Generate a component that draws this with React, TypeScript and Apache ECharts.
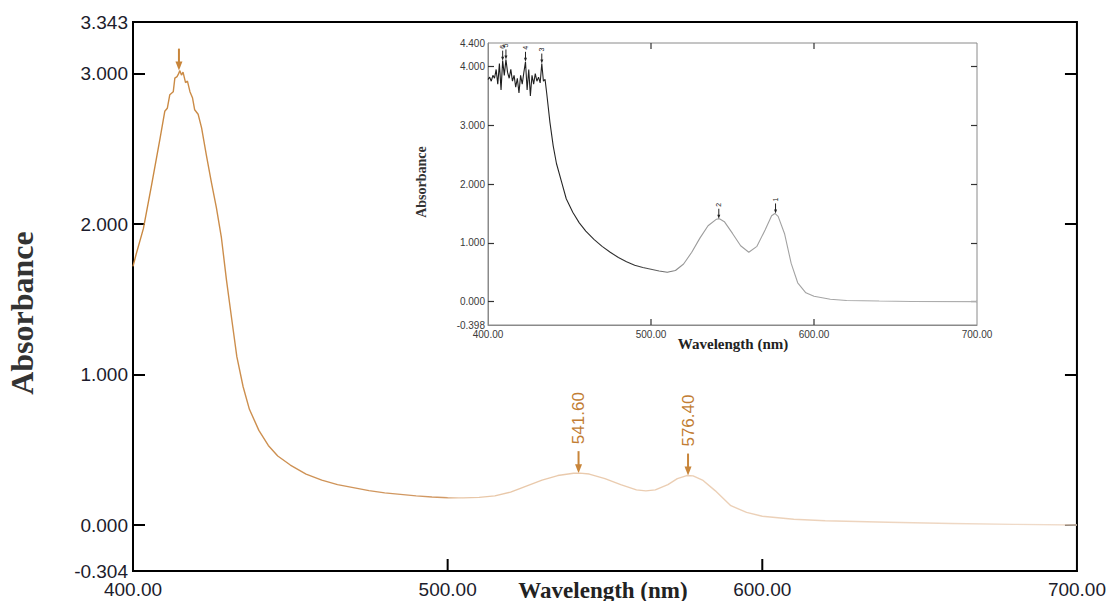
import React, { useEffect, useRef } from "react";
import * as echarts from "echarts";

// ---- Main spectrum (nm, absorbance) ----
const mainWavelength = [400, 401, 403.3, 405.9, 408.6, 410.1, 410.9, 411.7, 412.8, 413.3, 414.0, 414.5, 414.9, 415.4, 415.9, 416.7, 417.3, 418.1, 418.9, 419.6, 420.7, 421.8, 423.3, 424.9, 426.5, 428.1, 429.7, 431.5, 433, 435, 437, 440, 443, 446, 450, 455, 460, 465, 470, 475, 480, 485, 490, 495, 500, 505, 510, 515, 520, 525, 530, 535, 540, 542, 545, 550, 555, 560, 563, 566, 570, 573, 576, 578, 581, 585, 590, 595, 600, 610, 620, 640, 660, 680, 700];
const mainAbsorbance = [1.72, 1.80, 1.97, 2.26, 2.57, 2.75, 2.77, 2.86, 2.88, 2.97, 2.98, 3.00, 3.02, 2.99, 3.01, 2.94, 2.95, 2.88, 2.84, 2.76, 2.73, 2.64, 2.46, 2.28, 2.11, 1.91, 1.63, 1.35, 1.12, 0.92, 0.77, 0.63, 0.53, 0.46, 0.40, 0.34, 0.30, 0.27, 0.25, 0.23, 0.215, 0.205, 0.195, 0.188, 0.183, 0.182, 0.185, 0.195, 0.22, 0.26, 0.30, 0.33, 0.345, 0.346, 0.34, 0.31, 0.27, 0.235, 0.228, 0.235, 0.27, 0.31, 0.33, 0.328, 0.30, 0.23, 0.13, 0.085, 0.06, 0.04, 0.03, 0.02, 0.012, 0.006, 0.002];

const mainPeakWavelength = [414.6, 541.6, 576.4];
const mainPeakAbsorbance = [3.02, 0.346, 0.33];
const mainPeakLabels = ["", "541.60", "576.40"];

const xMin = 400;
const xMax = 700;
const xStep = 100;
const xInnerTicks = [500, 600];
const mainYTicks = [0, 1, 2, 3];
const mainYLabels = [-0.304, 0, 1, 2, 3, 3.343];
const mainYMin = -0.304;
const mainYMax = 3.343;

// ---- Inset spectrum ----
const insetWavelength = [400, 401, 402, 403, 404, 405, 406, 407, 408, 409, 410, 411, 412, 413, 414, 415, 416, 417, 418, 419, 420, 421, 422, 423, 424, 425, 426, 427, 428, 429, 430, 431, 432, 433, 434, 435, 436, 438, 440, 442, 445, 448, 452, 456, 460, 465, 470, 475, 480, 485, 490, 495, 500, 505, 510, 515, 520, 525, 530, 535, 540, 542, 545, 550, 555, 560, 565, 570, 574, 576, 578, 582, 586, 590, 595, 600, 610, 620, 640, 660, 700];
const insetAbsorbance = [3.78, 3.82, 3.75, 3.85, 3.80, 3.95, 3.70, 4.05, 3.60, 4.10, 3.85, 4.12, 3.90, 3.80, 3.95, 3.75, 3.85, 3.65, 3.80, 3.55, 3.85, 3.70, 3.90, 4.08, 3.60, 3.95, 3.50, 3.85, 3.70, 3.88, 3.75, 3.82, 3.72, 4.05, 3.75, 3.78, 3.55, 3.05, 2.65, 2.35, 2.05, 1.75, 1.52, 1.34, 1.20, 1.06, 0.94, 0.84, 0.75, 0.68, 0.62, 0.58, 0.55, 0.52, 0.50, 0.53, 0.64, 0.84, 1.08, 1.29, 1.40, 1.41, 1.36, 1.16, 0.95, 0.84, 0.94, 1.22, 1.46, 1.50, 1.45, 1.15, 0.65, 0.32, 0.15, 0.09, 0.04, 0.02, 0.01, 0.003, 0.0];

const insetPeakWavelength = [576.4, 541.6, 433, 423, 411, 409];
const insetPeakAbsorbance = [1.50, 1.41, 4.05, 4.08, 4.12, 4.10];
const insetPeakLabels = ["1", "2", "3", "4", "5", "6"];

const insetYTicks = [0, 1, 2, 3, 4];
const insetYLabels = [-0.398, 0, 1, 2, 3, 4, 4.4];
const insetYMin = -0.398;
const insetYMax = 4.4;

type ArrowOpts = {
  len: number; head: number; hw: number; lw: number; tgap: number;
  color: string; textColor: string; font: string;
};

function arrowRenderer(labels: string[], o: ArrowOpts) {
  return (params: any, api: any) => {
    const p = api.coord([api.value(0), api.value(1)]);
    const x = p[0];
    const tip = p[1];
    const top = tip - o.len;
    const children: any[] = [
      { type: "line", shape: { x1: x, y1: top, x2: x, y2: tip - o.head + 1 }, style: { stroke: o.color, lineWidth: o.lw } },
      { type: "polygon", shape: { points: [[x - o.hw, tip - o.head], [x + o.hw, tip - o.head], [x, tip]] }, style: { fill: o.color } },
    ];
    const t = labels[params.dataIndex];
    if (t) {
      children.push({
        type: "text", x: x, y: top - o.tgap, rotation: Math.PI / 2,
        style: { text: t, fill: o.textColor, font: o.font, align: "left", verticalAlign: "middle" },
      });
    }
    return { type: "group", children };
  };
}

export default function App() {
  const ref = useRef<HTMLDivElement>(null);
  useEffect(() => {
    if (!ref.current) return;
    const chart = echarts.init(ref.current, null, { renderer: "svg" });
    const labelFont = "Liberation Sans";
    const serif = "Liberation Serif";
    const mainData = mainWavelength.map((w, i) => [w, mainAbsorbance[i]]);
    const insetData = insetWavelength.map((w, i) => [w, insetAbsorbance[i]]);
    const insetTick = { show: true, inside: true, length: 6, lineStyle: { color: "#333", width: 1.2 } };

    const titles: any[] = [
      { type: "text", x: 22, y: 313, rotation: Math.PI / 2, z: 10,
        style: { text: "Absorbance", font: `bold 32px "${serif}"`, fill: "#333", align: "center", verticalAlign: "middle" } },
      { type: "text", x: 603, y: 590, z: 10,
        style: { text: "Wavelength (nm)", font: `bold 23px "${serif}"`, fill: "#222", align: "center", verticalAlign: "middle" } },
      { type: "text", x: 421, y: 182, rotation: Math.PI / 2, z: 10,
        style: { text: "Absorbance", font: `bold 14px "${serif}"`, fill: "#333", align: "center", verticalAlign: "middle" } },
      { type: "text", x: 733, y: 344, z: 10,
        style: { text: "Wavelength (nm)", font: `bold 15px "${serif}"`, fill: "#222", align: "center", verticalAlign: "middle" } },
    ];

    const option: any = {
      animation: false,
      backgroundColor: "#fff",
      grid: [
        { left: 133, right: 29, top: 22, bottom: 30, show: true, borderColor: "#000", borderWidth: 2, backgroundColor: "transparent" },
        { left: 488, right: 132, top: 43, bottom: 276, show: true, borderColor: "#8a8a8a", borderWidth: 1, backgroundColor: "#fff" },
      ],
      xAxis: [
        {
          gridIndex: 0, type: "value", min: xMin, max: xMax, interval: xStep, position: "bottom",
          axisLine: { show: true, onZero: false, lineStyle: { color: "#000", width: 2 } },
          axisTick: { show: false },
          axisLabel: { show: true, showMinLabel: true, showMaxLabel: true, formatter: (v: number) => v.toFixed(2), fontSize: 19, color: "#1c1c2c", fontFamily: labelFont, margin: 9 },
          splitLine: { show: false },
        },
        {
          gridIndex: 1, type: "value", min: xMin, max: xMax, interval: xStep, position: "bottom",
          axisLine: { show: true, onZero: false, lineStyle: { color: "#8a8a8a", width: 1 } },
          axisTick: { show: false },
          axisLabel: { show: true, showMinLabel: true, showMaxLabel: true, formatter: (v: number) => v.toFixed(2), fontSize: 10, color: "#3a3a3a", fontFamily: labelFont, margin: 4 },
          splitLine: { show: false }, z: 6,
        },
      ],
      yAxis: [
        {
          gridIndex: 0, type: "value", min: mainYMin, max: mainYMax, position: "left",
          axisLine: { show: true, onZero: false, lineStyle: { color: "#000", width: 2 } },
          axisTick: { show: true, inside: true, length: 12, customValues: mainYTicks, lineStyle: { color: "#000", width: 2 } },
          axisLabel: { show: true, customValues: mainYLabels, formatter: (v: number) => v.toFixed(3), fontSize: 19, color: "#1c1c2c", fontFamily: labelFont, margin: 5 },
          splitLine: { show: false },
        },
        {
          gridIndex: 0, type: "value", min: mainYMin, max: mainYMax, position: "right",
          axisLine: { show: false, onZero: false },
          axisTick: { show: true, inside: true, length: 12, customValues: mainYTicks, lineStyle: { color: "#000", width: 2 } },
          axisLabel: { show: false },
          splitLine: { show: false },
        },
        {
          gridIndex: 1, type: "value", min: insetYMin, max: insetYMax, position: "left",
          axisLine: { show: true, onZero: false, lineStyle: { color: "#8a8a8a", width: 1 } },
          axisTick: { ...insetTick, customValues: insetYTicks },
          axisLabel: { show: true, customValues: insetYLabels, formatter: (v: number) => v.toFixed(3), fontSize: 10, color: "#3a3a3a", fontFamily: labelFont, margin: 3 },
          splitLine: { show: false }, z: 6,
        },
        {
          gridIndex: 1, type: "value", min: insetYMin, max: insetYMax, position: "right",
          axisLine: { show: false, onZero: false },
          axisTick: { ...insetTick, customValues: insetYTicks },
          axisLabel: { show: false },
          splitLine: { show: false }, z: 6,
        },
      ],
      series: [
        {
          type: "line", xAxisIndex: 0, yAxisIndex: 0, data: mainData, showSymbol: false, smooth: false,
          lineStyle: {
            width: 1.4,
            color: new echarts.graphic.LinearGradient(0, 0, 1, 0, [
              { offset: 0, color: "#c98840" },
              { offset: 0.33, color: "#d29a66" },
              { offset: 0.345, color: "#e8c6a6" },
              { offset: 1, color: "#f0dccb" },
            ]),
          },
        },
        {
          type: "custom", xAxisIndex: 0, yAxisIndex: 0, clip: false,
          itemStyle: { color: "#c8853a" },
          data: mainPeakWavelength.map((w, i) => [w, mainPeakAbsorbance[i]]),
          renderItem: arrowRenderer(mainPeakLabels, {
            len: 22, head: 9, hw: 3.5, lw: 2, tgap: 7,
            color: "#c8853a", textColor: "#c27d33", font: `17px "${labelFont}"`,
          }),
        },
        {
          type: "line", xAxisIndex: 1, yAxisIndex: 2, data: insetData, showSymbol: false, smooth: false, z: 7,
          lineStyle: {
            width: 1.1,
            color: new echarts.graphic.LinearGradient(0, 0, 1, 0, [
              { offset: 0, color: "#1a1a1a" },
              { offset: 0.3, color: "#333333" },
              { offset: 0.4, color: "#9a9a9a" },
              { offset: 1, color: "#b0b0b0" },
            ]),
          },
        },
        {
          type: "custom", xAxisIndex: 1, yAxisIndex: 2, clip: false, z: 8,
          itemStyle: { color: "#222" },
          data: insetPeakWavelength.map((w, i) => [w, insetPeakAbsorbance[i]]),
          renderItem: arrowRenderer(insetPeakLabels, {
            len: 10, head: 4, hw: 1.5, lw: 1, tgap: 2,
            color: "#222", textColor: "#222", font: `7px "${labelFont}"`,
          }),
        },
      ],
      graphic: titles,
    };
    chart.setOption(option);

    // x-axis inner tick marks, positioned through the chart's own scales
    const tickMarks: any[] = [];
    xInnerTicks.forEach((v) => {
      const a = chart.convertToPixel({ xAxisIndex: 0, yAxisIndex: 0 } as any, [v, mainYMin]) as number[];
      tickMarks.push({ type: "rect", z: 20, shape: { x: a[0] - 1, y: a[1] - 12, width: 2, height: 12 }, style: { fill: "#000" } });
      const b = chart.convertToPixel({ xAxisIndex: 1, yAxisIndex: 2 } as any, [v, insetYMin]) as number[];
      tickMarks.push({ type: "rect", z: 20, shape: { x: b[0] - 0.6, y: b[1] - 6, width: 1.2, height: 6 }, style: { fill: "#333" } });
      const c = chart.convertToPixel({ xAxisIndex: 1, yAxisIndex: 2 } as any, [v, insetYMax]) as number[];
      tickMarks.push({ type: "rect", z: 20, shape: { x: c[0] - 0.6, y: c[1], width: 1.2, height: 6 }, style: { fill: "#333" } });
    });
    chart.setOption({ graphic: [...titles, ...tickMarks] }, { replaceMerge: ["graphic"] });

    return () => chart.dispose();
  }, []);
  return <div ref={ref} style={{ position: "absolute", left: 0, top: 0, width: 1109, height: 601 }} />;
}
